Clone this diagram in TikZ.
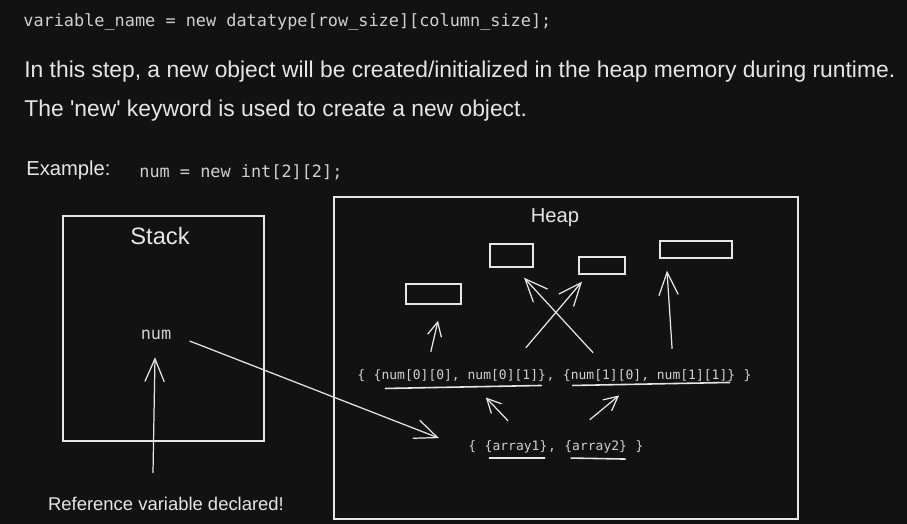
\documentclass[tikz,border=0pt]{standalone}
\usepackage{fontspec}
\setmainfont{Liberation Sans}
\newfontfamily\codefont{DejaVu Sans Mono}
\usetikzlibrary{arrows.meta, positioning}

\definecolor{bgdark}{HTML}{121212}
\definecolor{chalk}{HTML}{E6E6E6}
\definecolor{codegray}{HTML}{D0D0D0}

\begin{document}
\begin{tikzpicture}[
    x=0.02cm, y=0.02cm,
    every node/.style={text=chalk, inner sep=0pt},
    hand/.style={font=\fontsize{13}{15}\selectfont},
    code/.style={font=\codefont\fontsize{9.6}{11}\selectfont, text=codegray},
    arrcode/.style={font=\codefont\fontsize{7.4}{9}\selectfont, text=codegray},
    box/.style={draw=chalk, line width=0.8pt},
    arrow/.style={-{Straight Barb[length=13pt, width=11pt]}, draw=chalk, line width=0.7pt},
    small arrow/.style={-{Straight Barb[length=8pt, width=8pt]}, draw=chalk, line width=0.7pt},
    uline/.style={draw=chalk, line width=0.9pt, line cap=round}
]
    \fill[bgdark] (0,0) rectangle (907,-524);

    % text on top
    \node[code, anchor=west] (syntax) at (23,-22) {variable\_name = new datatype[row\_size][column\_size];};
    \node[hand, anchor=west] (step) at (24,-72) {In this step, a new object will be created/initialized in the heap memory during runtime.};
    \node[hand, anchor=west] (kw) at (24,-111) {The \textquotesingle new\textquotesingle{} keyword is used to create a new object.};
    \node[hand, font=\fontsize{11.5}{13}\selectfont, anchor=west] (ex) at (26,-170) {Example:};
    \node[code, anchor=west] (exline) at (139,-172) {num = new int[2][2];};

    % stack
    \node[box, minimum width=4.02cm, minimum height=4.5cm] (stack) at (163.5,-328.5) {};
    \node[hand, font=\fontsize{13.5}{15}\selectfont] (stacklbl) at (160,-236) {Stack};
    \node[code] (num) at (156,-335) {num};
    \node[hand, font=\fontsize{10.5}{12}\selectfont] (ref) at (166,-504) {Reference variable declared!};

    % heap
    \node[box, minimum width=9.28cm, minimum height=6.44cm] (heap) at (566,-358) {};
    \node[hand, font=\fontsize{11.5}{13}\selectfont] (heaplbl) at (555,-218) {Heap};
    \node[box, minimum width=1.1cm, minimum height=0.4cm] (r1) at (433.5,-294) {};
    \node[box, minimum width=0.86cm, minimum height=0.46cm] (r2) at (511.5,-255.5) {};
    \node[box, minimum width=0.92cm, minimum height=0.34cm] (r3) at (602,-265.5) {};
    \node[box, minimum width=1.44cm, minimum height=0.34cm] (r4) at (696,-249.5) {};

    \node[arrcode, anchor=base west] (rowopen) at (357,-379) {\{};
    \node[arrcode, base right=4.46pt of rowopen] (row0) {\{num[0][0], num[0][1]\}};
    \node[arrcode, base right=0pt of row0] (rowsep) {,};
    \node[arrcode, base right=4.46pt of rowsep] (row1) {\{num[1][0], num[1][1]\}};
    \node[arrcode, base right=4.46pt of row1] (rowclose) {\}};

    \node[arrcode, anchor=base west] (listopen) at (468,-450) {\{};
    \node[arrcode, base right=4.46pt of listopen] (arr1) {\{array1\}};
    \node[arrcode, base right=0pt of arr1] (listsep) {,};
    \node[arrcode, base right=4.46pt of listsep] (arr2) {\{array2\}};
    \node[arrcode, base right=4.46pt of arr2] (listclose) {\}};

    % underlines
    \draw[uline] ([shift={(12,-7)}]row0.south west) -- ([shift={(-5,-4)}]row0.south east);
    \draw[uline] ([shift={(10,-4)}]row1.south west) -- ([shift={(-6,-1)}]row1.south east);
    \draw[uline] ([shift={(5,-5)}]arr1.south west) -- ([shift={(-3,-5)}]arr1.south east);
    \draw[uline] ([shift={(7,-5)}]arr2.south west) -- ([shift={(-2,-6)}]arr2.south east);

    % arrows
    \draw[arrow] ([shift={(-13,24)}]ref.north) -- ([shift={(-1,-17)}]num.south);
    \draw[arrow] ([shift={(18,-6)}]num.east) -- ([shift={(-29,8)}]listopen.west);
    \draw[small arrow] ([shift={(-8,19)}]arr1.north) -- ([shift={(26,-16)}]row0.south);
    \draw[small arrow] ([shift={(-6,20)}]arr2.north) -- ([shift={(-30,-14)}]row1.south);
    \draw[small arrow] ([shift={(-29,17)}]row0.north) -- ([shift={(4.5,-16)}]r1.south);
    \draw[arrow] ([shift={(-56,16)}]row1.north) -- ([shift={(12.5,-10)}]r2.south);
    \draw[arrow] ([shift={(66,21)}]row0.north) -- ([shift={(-20,-7)}]r3.south);
    \draw[arrow] ([shift={(23,20)}]row1.north) -- ([shift={(-29,-12)}]r4.south);
\end{tikzpicture}
\end{document}
